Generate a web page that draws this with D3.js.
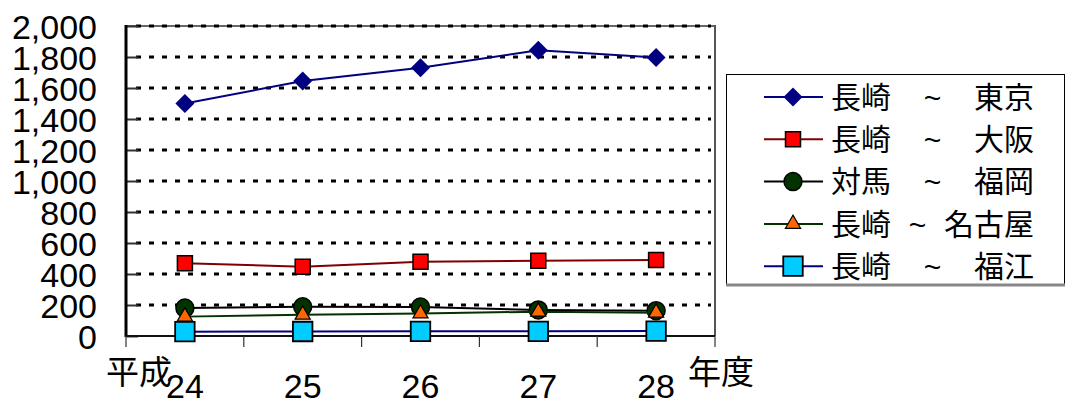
<!DOCTYPE html>
<html>
<head>
<meta charset="utf-8">
<script src="https://cdn.jsdelivr.net/npm/d3@7"></script>
<style>
  html, body { margin: 0; padding: 0; background: #fff; }
  svg { display: block; }
  text { font-family: "Liberation Sans", Arial, "Noto Sans CJK JP", sans-serif; }
  .cjk { font-family: "Liberation Sans", "Noto Sans CJK JP", sans-serif; }
</style>
</head>
<body>
<svg id="chart" width="1065" height="399"></svg>
<script>
// Fiscal years (平成24〜28)
const years = ["24", "25", "26", "27", "28"];
const yTicks = [0, 200, 400, 600, 800, 1000, 1200, 1400, 1600, 1800, 2000];

// Route names: origin, destination
const origins = ["長崎", "長崎", "対馬", "長崎", "長崎"];
const destinations = ["東京", "大阪", "福岡", "名古屋", "福江"];

// Passenger figures per route
const tokyo   = [1500, 1645, 1730, 1843, 1797];
const osaka   = [469, 447, 479, 486, 490];
const fukuoka = [180, 188, 187, 168, 163];
const nagoya  = [125, 137, 145, 157, 150];
const fukue   = [28, 29, 30, 30, 32];

const seriesValues = [tokyo, osaka, fukuoka, nagoya, fukue];

// Marker / line styling per route
const styles = [
  { shape: "diamond",  size: 180, fill: "#000080", stroke: "#000080", sw: 0,   line: "#000080" },
  { shape: "square",   size: 225, fill: "#FF0000", stroke: "#000000", sw: 1.5, line: "#800000" },
  { shape: "circle",   size: 254, fill: "#003300", stroke: "#000000", sw: 1.5, line: "#000000" },
  { shape: "triangle", size: 100, fill: "#FF6600", stroke: "#000000", sw: 1.2, line: "#003300" },
  { shape: "square",   size: 380, fill: "#00CCFF", stroke: "#000000", sw: 1.8, line: "#000080" }
];

const svg = d3.select("#chart");

const plot = { left: 126, right: 715, top: 26, bottom: 336 };

const x = d3.scaleBand().domain(years).range([plot.left, plot.right]).padding(0);
const y = d3.scaleLinear().domain([0, 2000]).range([plot.bottom, plot.top]);

function symbolPath(st) {
  const type = st.shape === "circle" ? d3.symbolCircle
             : st.shape === "triangle" ? d3.symbolTriangle
             : d3.symbolSquare;
  return d3.symbol().type(type).size(st.size)();
}
function symbolRotate(st) { return st.shape === "diamond" ? " rotate(45)" : ""; }

// Plot frame (top and right edges)
svg.append("line")
  .attr("x1", plot.left).attr("x2", plot.right)
  .attr("y1", plot.top).attr("y2", plot.top)
  .attr("stroke", "#666").attr("stroke-width", 2);
svg.append("line")
  .attr("x1", plot.right).attr("x2", plot.right)
  .attr("y1", plot.top - 1).attr("y2", plot.bottom)
  .attr("stroke", "#555").attr("stroke-width", 2);

// Dashed gridlines
svg.append("g")
  .selectAll("line")
  .data(yTicks.filter(d => d > 0))
  .join("line")
  .attr("x1", plot.left + 10).attr("x2", plot.right - 4)
  .attr("y1", d => y(d)).attr("y2", d => y(d))
  .attr("stroke", "#000")
  .attr("stroke-width", 3)
  .attr("stroke-dasharray", "5,8");

// Y axis: inner ticks and labels
const yAxis = d3.axisLeft(y).tickValues(yTicks).tickSize(-12).tickPadding(0)
  .tickFormat(d3.format(","));
const gy = svg.append("g").attr("transform", `translate(${plot.left},0)`).call(yAxis);
gy.select(".domain").remove();
gy.selectAll(".tick line").attr("stroke", "#333").attr("stroke-width", 2);
gy.selectAll(".tick text")
  .attr("x", 97 - plot.left)
  .attr("dy", "0.36em")
  .attr("font-size", 34)
  .attr("fill", "#000")
  .attr("font-family", "Liberation Sans, Arial, sans-serif");

svg.append("line")
  .attr("x1", plot.left).attr("x2", plot.left)
  .attr("y1", plot.top - 1).attr("y2", plot.bottom + 1)
  .attr("stroke", "#000").attr("stroke-width", 3);

// X axis: baseline, boundary ticks, labels
svg.append("line")
  .attr("x1", plot.left).attr("x2", plot.right)
  .attr("y1", plot.bottom).attr("y2", plot.bottom)
  .attr("stroke", "#111").attr("stroke-width", 2);

const boundaries = years.map(d => x(d)).concat([plot.right]);
svg.append("g").selectAll("line")
  .data(boundaries)
  .join("line")
  .attr("x1", d => d).attr("x2", d => d)
  .attr("y1", plot.bottom).attr("y2", plot.bottom + 11)
  .attr("stroke", "#333").attr("stroke-width", 1.2);

svg.append("g").selectAll("text")
  .data(years)
  .join("text")
  .attr("x", d => x(d) + x.bandwidth() / 2)
  .attr("y", 398)
  .attr("text-anchor", "middle")
  .attr("font-size", 34)
  .attr("fill", "#000")
  .text(d => d);

svg.append("text").attr("class", "cjk")
  .attr("x", 106).attr("y", 384)
  .attr("font-size", 33).attr("fill", "#000")
  .text("平成");
svg.append("text").attr("class", "cjk")
  .attr("x", 688).attr("y", 384)
  .attr("font-size", 33).attr("fill", "#000")
  .text("年度");

// Series lines and markers
const lineGen = d3.line()
  .x((d, i) => x(years[i]) + x.bandwidth() / 2)
  .y(d => y(d));

seriesValues.forEach((vals, si) => {
  const st = styles[si];
  const g = svg.append("g");
  g.append("path")
    .datum(vals)
    .attr("d", lineGen)
    .attr("fill", "none")
    .attr("stroke", st.line)
    .attr("stroke-width", 2);
  g.selectAll("path.marker")
    .data(vals)
    .join("path")
    .attr("class", "marker")
    .attr("d", symbolPath(st))
    .attr("transform", (d, i) =>
      `translate(${x(years[i]) + x.bandwidth() / 2},${y(d)})` + symbolRotate(st))
    .attr("fill", st.fill)
    .attr("stroke", st.stroke)
    .attr("stroke-width", st.sw);
});

// Legend
const legend = { x: 726, y: 74, w: 338, h: 210 };
svg.append("rect")
  .attr("x", legend.x + 0.5).attr("y", legend.y + 0.5)
  .attr("width", legend.w).attr("height", legend.h)
  .attr("fill", "#fff").attr("stroke", "#000").attr("stroke-width", 1);
svg.append("line")
  .attr("x1", legend.x).attr("x2", legend.x + legend.w + 1)
  .attr("y1", legend.y + legend.h + 1).attr("y2", legend.y + legend.h + 1)
  .attr("stroke", "#888").attr("stroke-width", 3);

const rowY = i => 97 + i * 42.3;
const destEnd = 1034;
const charW = 30;

origins.forEach((o, i) => {
  const st = styles[i];
  const cy = rowY(i);
  const g = svg.append("g");
  g.append("line")
    .attr("x1", 764).attr("x2", 823)
    .attr("y1", cy).attr("y2", cy)
    .attr("stroke", st.line).attr("stroke-width", 2);
  g.append("path")
    .attr("d", symbolPath(st))
    .attr("transform", `translate(793,${cy})` + symbolRotate(st))
    .attr("fill", st.fill)
    .attr("stroke", st.stroke)
    .attr("stroke-width", st.sw);
  g.append("text").attr("class", "cjk")
    .attr("x", 831).attr("y", cy).attr("dy", "0.36em")
    .attr("font-size", 30).attr("fill", "#000")
    .text(o);
  const dest = destinations[i];
  const destStart = destEnd - dest.length * charW;
  g.append("text")
    .attr("x", (891 + destStart) / 2).attr("y", cy).attr("dy", "0.36em")
    .attr("text-anchor", "middle")
    .attr("font-size", 30).attr("fill", "#000")
    .text("~");
  g.append("text").attr("class", "cjk")
    .attr("x", destEnd).attr("y", cy).attr("dy", "0.36em")
    .attr("text-anchor", "end")
    .attr("font-size", 30).attr("fill", "#000")
    .text(dest);
});
</script>
</body>
</html>
